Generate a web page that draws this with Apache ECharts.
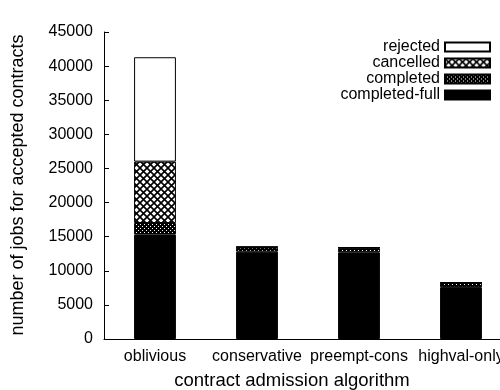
<!DOCTYPE html>
<html>
<head>
<meta charset="utf-8">
<script src="https://cdn.jsdelivr.net/npm/echarts@6/dist/echarts.min.js"></script>
<style>
html,body{margin:0;padding:0;background:#fff;}
#chart{width:500px;height:390px;}
</style>
</head>
<body>
<div id="chart"></div>
<script>
var categories = ['oblivious', 'conservative', 'preempt-cons', 'highval-only'];
var completedFull = [15300, 12800, 12700, 7600];
var completed = [1700, 600, 600, 600];
var cancelled = [9000, 100, 100, 50];
var rejected = [15300, 0, 0, 0];
var yTicks = [0, 5000, 10000, 15000, 20000, 25000, 30000, 35000, 40000, 45000];

function makeCross() {
  var c = document.createElement('canvas');
  c.width = 7; c.height = 7;
  var g = c.getContext('2d');
  g.fillStyle = '#fff'; g.fillRect(0, 0, 7, 7);
  g.strokeStyle = '#000'; g.lineWidth = 1.6;
  g.beginPath();
  g.moveTo(-1, -1); g.lineTo(8, 8);
  g.moveTo(-1, 8); g.lineTo(8, -1);
  g.stroke();
  return c;
}
function makeDots() {
  var c = document.createElement('canvas');
  c.width = 4; c.height = 4;
  var g = c.getContext('2d');
  g.fillStyle = '#000'; g.fillRect(0, 0, 4, 4);
  g.fillStyle = '#fff';
  g.fillRect(0, 0, 1, 1);
  g.fillRect(2, 2, 1, 1);
  return c;
}
var crossPat = { image: makeCross(), repeat: 'repeat' };
var dotPat = { image: makeDots(), repeat: 'repeat' };

var font = 'Liberation Sans, Arial, sans-serif';
var chart = echarts.init(document.getElementById('chart'), null, { renderer: 'canvas' });

function ser(name, data, color) {
  return {
    name: name, type: 'bar', stack: 's', data: data, barWidth: '41%',
    itemStyle: { color: color, borderColor: '#000', borderWidth: 1 },
    emphasis: { disabled: true }
  };
}

chart.setOption({
  animation: false,
  backgroundColor: '#fff',
  grid: { left: 104, right: -12, top: 32, bottom: 51, containLabel: false, outerBoundsMode: 'none' },
  legend: {
    orient: 'vertical', right: 4, top: 34, align: 'right', icon: 'rect',
    itemWidth: 45, itemHeight: 9, itemGap: 0,
    data: ['rejected', 'cancelled', 'completed', 'completed-full'],
    textStyle: { fontFamily: font, fontSize: 16, lineHeight: 14, color: '#000', padding: [0, 0, 0, 0] },
    selectedMode: false
  },
  xAxis: {
    type: 'category', data: categories,
    axisLine: { lineStyle: { color: '#000', width: 1 } },
    axisTick: { show: false },
    axisLabel: { fontFamily: font, fontSize: 16, color: '#000', margin: 10, interval: 0 }
  },
  yAxis: {
    type: 'value', min: 0, max: 45000, interval: 5000,
    splitLine: { show: false },
    axisLine: { show: true, lineStyle: { color: '#000', width: 1 } },
    axisTick: { show: true, inside: true, length: 5, lineStyle: { color: '#000' } },
    axisLabel: {
      fontFamily: font, fontSize: 16, color: '#000', margin: 11,
      formatter: function (v) { return yTicks.indexOf(v) >= 0 ? String(v) : ''; }
    }
  },
  graphic: [
    { type: 'text', x: 18, y: 185, rotation: Math.PI / 2,
      style: { text: 'number of jobs for accepted contracts', font: '18px ' + font, fill: '#000', align: 'center', verticalAlign: 'middle' } },
    { type: 'text', x: 292, y: 381,
      style: { text: 'contract admission algorithm', font: '18.5px ' + font, fill: '#000', align: 'center', verticalAlign: 'middle' } }
  ],
  series: [
    ser('completed-full', completedFull, '#000'),
    ser('completed', completed, dotPat),
    ser('cancelled', cancelled, crossPat),
    ser('rejected', rejected, '#fff')
  ]
});
</script>
</body>
</html>
